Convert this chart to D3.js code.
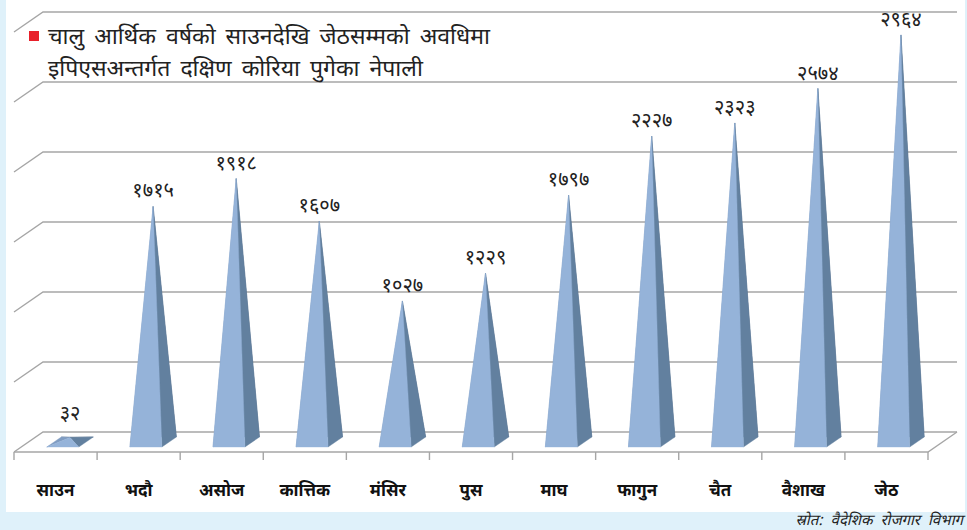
<!DOCTYPE html>
<html>
<head>
<meta charset="utf-8">
<script src="https://cdn.jsdelivr.net/npm/d3@7"></script>
<style>
  body { margin: 0; background: #dff1fa; }
  svg { display: block; }
  text { font-family: "Noto Sans Devanagari", "Noto Sans", "Lohit Devanagari", sans-serif; }
</style>
</head>
<body>
<div id="chart"></div>
<script>
const categories = ['साउन', 'भदौ', 'असोज', 'कात्तिक', 'मंसिर', 'पुस', 'माघ', 'फागुन', 'चैत', 'वैशाख', 'जेठ'];
const values = [32, 1715, 1918, 1607, 1027, 1229, 1797, 2227, 2323, 2574, 2964];
const gridTicks = [0, 500, 1000, 1500, 2000, 2500, 3000];
const titleLines = ['चालु आर्थिक वर्षको साउनदेखि जेठसम्मको अवधिमा', 'इपिएसअन्तर्गत दक्षिण कोरिया पुगेका नेपाली'];
const sourceText = 'स्रोत: वैदेशिक रोजगार विभाग';

const width = 967;
const height = 530;
// floor geometry (oblique 3d look)
const floorLeft = 14, floorRight = 928, floorFront = 452;
const depthX = 29, depthY = -20;
const halfBase = 16;

const nepaliDigits = '०१२३४५६७८९';
const toNepali = n => String(n).replace(/\d/g, d => nepaliDigits[+d]);

const svg = d3.select('#chart')
  .append('svg')
  .attr('width', width)
  .attr('height', height);

svg.append('rect')
  .attr('x', 6).attr('y', 0)
  .attr('width', 959).attr('height', 512)
  .attr('fill', '#ffffff');

const x = d3.scaleBand()
  .domain(categories)
  .range([floorLeft, floorRight]);

// back wall gridlines
const wallY = d3.scaleLinear()
  .domain([0, 3000])
  .range([floorFront + depthY, 12]);

// apex height of the pyramids (measured at mid depth)
const barH = d3.scaleLinear()
  .domain([0, 3000])
  .range([0, 412]);

const grid = svg.append('g')
  .attr('stroke', '#a6a6a6')
  .attr('stroke-width', 1.4)
  .attr('fill', 'none');

grid.selectAll('path')
  .data(gridTicks)
  .enter()
  .append('path')
  .attr('d', d => {
    const y = wallY(d);
    return `M${floorLeft},${y - depthY}L${floorLeft + depthX},${y}L${floorRight + depthX},${y}`;
  });

// floor front + right edge
grid.append('path')
  .attr('d', `M${floorLeft},${floorFront}L${floorRight},${floorFront}L${floorRight + depthX},${floorFront + depthY}`);

// ticks between categories
const tickXs = categories.map(c => x(c)).concat([floorRight]);
grid.selectAll('line.tick')
  .data(tickXs)
  .enter()
  .append('line')
  .attr('class', 'tick')
  .attr('x1', d => d).attr('x2', d => d)
  .attr('y1', floorFront).attr('y2', floorFront + 8);

const bars = values.map((v, i) => {
  const cx = x(categories[i]) + x.bandwidth() / 2;
  const fx = cx + depthX * 0.25, fy = floorFront + depthY * 0.25;
  const bx = cx + depthX * 0.75, by = floorFront + depthY * 0.75;
  const ax = cx + depthX * 0.5, ay = floorFront + depthY * 0.5 - barH(v);
  return {
    v, ax, ay,
    FL: [fx - halfBase, fy], FR: [fx + halfBase, fy],
    BL: [bx - halfBase, by], BR: [bx + halfBase, by],
    A: [ax, ay]
  };
});

const faces = [
  { key: d => [d.BL, d.BR, d.A], fill: '#4f6785' },
  { key: d => [d.FL, d.BL, d.A], fill: '#7f9cc2' },
  { key: d => [d.FR, d.BR, d.A], fill: '#62809f' },
  { key: d => [d.FL, d.FR, d.A], fill: '#95b3d9' }
];

const barG = svg.append('g');
const pyr = barG.selectAll('g')
  .data(bars)
  .enter()
  .append('g');

faces.forEach(f => {
  pyr.append('path')
    .attr('d', d => 'M' + f.key(d).join('L') + 'Z')
    .attr('fill', f.fill)
    .attr('stroke', f.fill)
    .attr('stroke-width', 0.4)
    .attr('stroke-linejoin', 'round');
});

svg.append('g')
  .selectAll('text')
  .data(bars)
  .enter()
  .append('text')
  .attr('x', d => d.ax)
  .attr('y', d => d.ay - (d.v < 200 ? 18 : 9))
  .attr('text-anchor', 'middle')
  .attr('font-size', 20)
  .attr('fill', '#222')
  .text(d => toNepali(d.v));

svg.append('g')
  .selectAll('text')
  .data(categories)
  .enter()
  .append('text')
  .attr('x', d => x(d) + x.bandwidth() / 2)
  .attr('y', 496)
  .attr('text-anchor', 'middle')
  .attr('font-size', 17)
  .attr('font-weight', 'bold')
  .attr('fill', '#111')
  .text(d => d);

// legend / title
svg.append('rect')
  .attr('x', 29).attr('y', 31)
  .attr('width', 10).attr('height', 10)
  .attr('fill', '#e8202a');

svg.append('g')
  .selectAll('text')
  .data(titleLines)
  .enter()
  .append('text')
  .attr('x', 48)
  .attr('y', (d, i) => 44 + i * 32)
  .attr('font-size', 23)
  .attr('fill', '#222')
  .attr('word-spacing', 4)
  .text(d => d);

svg.append('text')
  .attr('x', 963)
  .attr('y', 525)
  .attr('text-anchor', 'end')
  .attr('font-size', 15)
  .attr('font-style', 'italic')
  .attr('fill', '#222')
  .attr('word-spacing', 4)
  .text(sourceText);
</script>
</body>
</html>
